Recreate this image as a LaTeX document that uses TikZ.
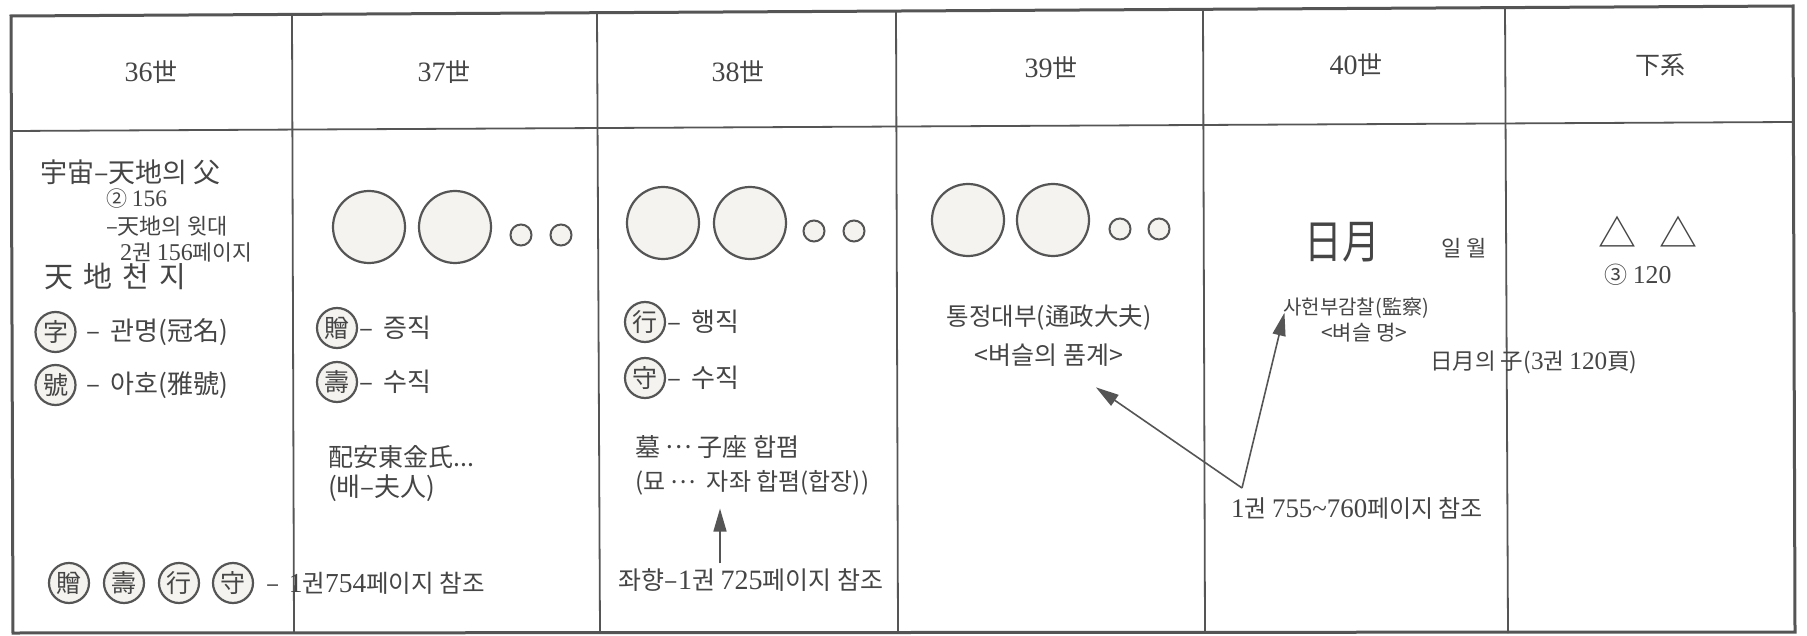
\documentclass[tikz,border=0pt]{standalone}
\usepackage{fontspec}
\setmainfont{Noto Sans CJK KR}
\newfontfamily\lat{Liberation Serif}
\usetikzlibrary{arrows.meta}
\definecolor{tc}{HTML}{454545}
\definecolor{lc}{HTML}{555555}
\definecolor{cf}{HTML}{F4F3EF}
\newcommand\fsz[1]{\fontsize{#1}{#1}\selectfont}
\newcommand\dg[1]{{\lat\fontsize{1.12em}{1em}\selectfont #1}}
\newcommand\mdots{\raisebox{0.3em}{…}}
\begin{document}
\begin{tikzpicture}[x=1pt,y=-1pt,
  t/.style={inner sep=0pt, text=tc},
  tw/.style={t, anchor=west},
  bigc/.style={circle, draw=lc, fill=cf, line width=2.2pt, minimum size=72pt, inner sep=0pt},
  smc/.style={circle, draw=lc, fill=cf, line width=2pt, minimum size=21pt, inner sep=0pt},
  cch/.style={circle, draw=lc, fill=cf, line width=2.2pt, minimum size=40pt, inner sep=0pt, text=tc, font=\fsz{25}},
  grid/.style={draw=lc, line width=1.8pt},
  arr/.style={draw=lc, line width=1.6pt, -{Triangle[length=23pt,width=13pt]}}
]
\useasboundingbox (0,0) rectangle (1807,636);
\fill[white] (0,0) rectangle (1807,636);
% grid
\draw[draw=lc, line width=3pt] (11,16) -- (1793,6) -- (1795,632) -- (13,633) -- cycle;
\draw[grid] (11,131) -- (1793,122);
\draw[grid] (292,14.4) -- (294,633);
\draw[grid] (597,12.7) -- (600,633);
\draw[grid] (896,11) -- (898,633);
\draw[grid] (1203,9.3) -- (1205,633);
\draw[grid] (1505,7.6) -- (1508,633);
% headers
\node[t, font=\fsz{25}] (h36) at (151,72) {\dg{36}世};
\node[t, font=\fsz{25}] (h37) at (444,72) {\dg{37}世};
\node[t, font=\fsz{25}] (h38) at (738,72) {\dg{38}世};
\node[t, font=\fsz{25}] (h39) at (1051,68) {\dg{39}世};
\node[t, font=\fsz{25}] (h40) at (1356,65) {\dg{40}世};
\node[t, font=\fsz{25}] (hxs) at (1660,65) {下系};
% column 36
\node[tw, font=\fsz{27}] (a1) at (40,172) {宇宙–天地의 父};
\node[tw, font=\fsz{21}] (a2) at (106,199) {② \dg{156}};
\node[tw, font=\fsz{22}] (a3) at (106,226) {–天地의 윗대};
\node[tw, font=\fsz{21.5}] (a4) at (120,252) {\dg{2}권 \dg{156}페이지};
\node[tw, font=\fsz{29}] (a5) at (44,277) {天\hspace{0.35em}地\hspace{0.35em}천\hspace{0.35em}지};
\node[cch] (cz) at (55.5,332) {字};
\node[tw, font=\fsz{26}] (a6) at (82,332) {\,–\, 관명(冠名)};
\node[cch] (ch) at (55.5,385) {號};
\node[tw, font=\fsz{26}] (a7) at (82,385) {\,–\, 아호(雅號)};
\node[cch] (q1) at (69,583) {贈};
\node[cch] (q2) at (124,583) {壽};
\node[cch] (q3) at (179,583) {行};
\node[cch] (q4) at (233,583) {守};
\node[tw, font=\fsz{24.5}] (a8) at (262,583) {\,–\, \dg{1}권\dg{754}페이지 참조};
% column 37
\node[bigc] (b37a) at (369,227) {};
\node[bigc] (b37b) at (455,227) {};
\node[smc] (s37a) at (521,235) {};
\node[smc] (s37b) at (561,235) {};
\node[cch] (c37a) at (337,328) {贈};
\node[tw, font=\fsz{26}] (d1) at (359,328) {–\, 증직};
\node[cch] (c37b) at (337,382) {壽};
\node[tw, font=\fsz{26}] (d2) at (359,382) {–\, 수직};
\node[tw, font=\fsz{25}] (d3) at (328,457) {配安東金氏...};
\node[tw, font=\fsz{26}] (d4) at (328,488) {(배–夫人)};
% column 38
\node[bigc] (b38a) at (663,223) {};
\node[bigc] (b38b) at (750,223) {};
\node[smc] (s38a) at (814,231) {};
\node[smc] (s38b) at (854,231) {};
\node[cch] (c38a) at (645,322) {行};
\node[tw, font=\fsz{26}] (e1) at (667,322) {–\, 행직};
\node[cch] (c38b) at (645,378) {守};
\node[tw, font=\fsz{26}] (e2) at (667,378) {–\, 수직};
\node[tw, font=\fsz{25}] (myo1) at (635,447) {墓 \mdots{} 子座 합폄};
\node[tw, font=\fsz{24}] (myo) at (635,483) {(묘 \mdots{}~ 자좌 합폄(합장))};
\node[t, font=\fsz{25}] (jw) at (751,580) {좌향–\dg{1}권 \dg{725}페이지 참조};
\draw[arr, shorten <=5pt, shorten >=13pt] ([xshift=-31pt]jw.north) -- ([xshift=-31pt]jw.north |- myo.south);
% column 39
\node[bigc] (b39a) at (968,220) {};
\node[bigc] (b39b) at (1053,220) {};
\node[smc] (s39a) at (1120,229) {};
\node[smc] (s39b) at (1159,229) {};
\node[t, font=\fsz{24.5}] (tj) at (1049,318) {통정대부(通政大夫)};
\node[t, font=\fsz{25}] (pum) at (1049,355) {<벼슬의 품계>};
% column 40
\node[t, font=\fsz{46}] (im) at (1342,242) {\scalebox{0.82}[1]{日月}};
\node[t, font=\fsz{22}] (iw) at (1464,248) {일 월};
\node[t, font=\fsz{20}] (sah) at (1356,308) {사헌부감찰(監察)};
\node[t, font=\fsz{21}] (bm) at (1364,333) {<벼슬 명>};
\node[tw, font=\fsz{22.5}] (ij) at (1430,362) {日月의 子(\dg{3}권 \dg{120}頁)};
\node[tw, font=\fsz{24}] (ref3) at (1231,508) {\dg{1}권 \dg{755\textasciitilde 760}페이지 참조};
\coordinate (v) at (1242,488);
\draw[arr, shorten >=57pt] (v) -- (pum.center);
\draw[arr, shorten >=-6pt] (v) -- (sah.south west);
% column 下系
\node[t, font=\fsz{38}] (tri1) at (1617,232) {△};
\node[t, font=\fsz{38}] (tri2) at (1678,232) {△};
\node[t, font=\fsz{23}] (n3) at (1638,275) {③ \dg{120}};
\end{tikzpicture}
\end{document}
